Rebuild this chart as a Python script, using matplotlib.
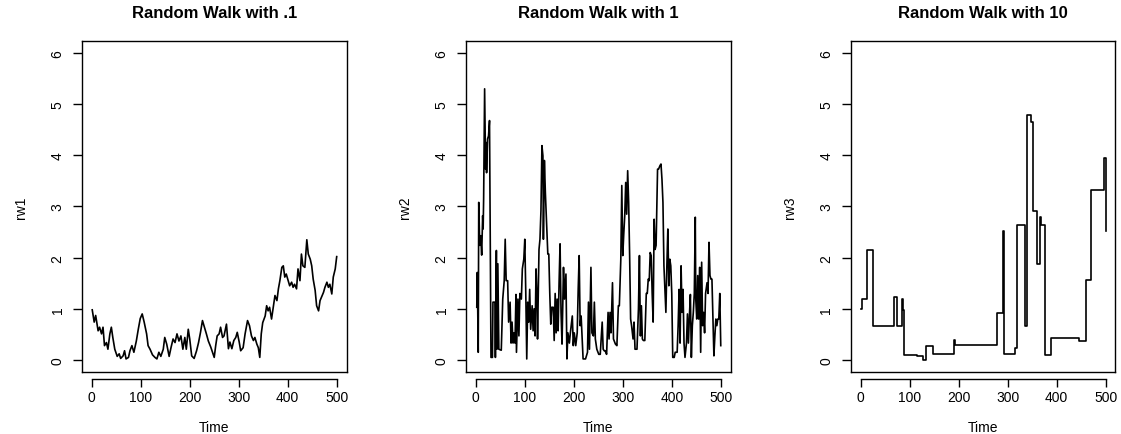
import matplotlib
matplotlib.use('Agg')
import matplotlib.pyplot as plt

plt.rcParams['font.family'] = ['Liberation Sans', 'DejaVu Sans']

# rw1: proposal sd .1 (vertices)
t1 = [1, 5, 8, 13, 16, 20, 23, 26, 30, 33, 37, 40, 43, 47, 52, 56, 59, 64, 67, 70,
      75, 78, 82, 86, 91, 95, 99, 103, 107, 112, 115, 119, 124, 129, 133, 137, 141,
      146, 149, 153, 158, 162, 166, 170, 174, 178, 182, 186, 190, 193, 197, 200, 204,
      209, 214, 218, 222, 226, 230, 234, 238, 243, 250, 253, 256, 260, 263, 267, 270,
      275, 279, 282, 286, 290, 294, 297, 301, 304, 309, 313, 318, 322, 326, 330, 333,
      337, 340, 343, 346, 349, 354, 357, 360, 363, 367, 371, 374, 378, 381, 384, 388,
      391, 394, 397, 401, 404, 408, 411, 414, 418, 421, 425, 428, 431, 435, 439, 442,
      446, 449, 452, 456, 459, 463, 466, 469, 473, 476, 480, 483, 486, 490, 493, 497,
      500]
rw1 = [0.98, 0.74, 0.87, 0.57, 0.64, 0.51, 0.64, 0.28, 0.34, 0.21, 0.51, 0.64, 0.44,
       0.21, 0.07, 0.12, 0.03, 0.08, 0.18, 0.02, 0.05, 0.18, 0.28, 0.15, 0.37, 0.60,
       0.81, 0.90, 0.74, 0.51, 0.28, 0.21, 0.10, 0.05, 0.02, 0.15, 0.07, 0.21, 0.44,
       0.31, 0.07, 0.25, 0.41, 0.34, 0.51, 0.37, 0.47, 0.21, 0.44, 0.21, 0.60, 0.41,
       0.08, 0.03, 0.18, 0.34, 0.54, 0.77, 0.64, 0.51, 0.37, 0.25, 0.05, 0.28, 0.47,
       0.51, 0.64, 0.44, 0.47, 0.70, 0.22, 0.35, 0.22, 0.38, 0.44, 0.54, 0.35, 0.18,
       0.24, 0.51, 0.77, 0.67, 0.47, 0.38, 0.44, 0.31, 0.24, 0.05, 0.51, 0.73, 0.86,
       1.06, 0.96, 1.03, 0.80, 1.06, 1.26, 1.16, 1.39, 1.55, 1.81, 1.84, 1.62, 1.68,
       1.55, 1.45, 1.52, 1.42, 1.48, 1.39, 1.78, 1.55, 2.07, 1.84, 1.81, 2.35, 2.07,
       1.97, 1.84, 1.58, 1.36, 1.06, 0.96, 1.16, 1.23, 1.32, 1.42, 1.52, 1.42, 1.48,
       1.29, 1.62, 1.78, 2.02]

# rw2: proposal sd 1
t2 = [2, 3, 5, 6, 8, 10, 12, 14, 15, 16, 18, 20, 21, 22, 24, 26, 28, 31, 34, 35, 39,
      40, 42, 43, 45, 47, 52, 55, 58, 60, 62, 65, 67, 70, 72, 74, 76, 78, 80, 82, 83,
      86, 88, 90, 93, 95, 98, 100, 102, 104, 106, 108, 110, 112, 115, 117, 119, 121,
      123, 125, 126, 129, 131, 133, 135, 137, 138, 140, 142, 145, 147, 149, 151, 153,
      155, 158, 160, 162, 164, 166, 168, 170, 172, 174, 176, 179, 181, 184, 186, 188,
      191, 193, 197, 199, 201, 204, 207, 209, 211, 213, 215, 219, 224, 228, 230, 232,
      235, 237, 240, 242, 244, 247, 251, 254, 258, 260, 262, 264, 267, 270, 272, 274,
      276, 279, 281, 285, 288, 291, 293, 296, 298, 300, 302, 304, 306, 308, 310, 312,
      314, 316, 318, 321, 323, 325, 329, 332, 334, 336, 338, 340, 342, 345, 348, 350,
      352, 354, 356, 358, 360, 362, 364, 366, 368, 371, 373, 376, 378, 380, 382, 384,
      386, 388, 390, 392, 394, 396, 398, 400, 402, 405, 407, 411, 413, 415, 417, 419,
      421, 423, 425, 427, 430, 432, 434, 436, 438, 440, 442, 444, 446, 448, 449, 451,
      453, 455, 457, 459, 461, 463, 465, 467, 469, 472, 474, 476, 478, 480, 482, 484,
      486, 488, 490, 492, 494, 496, 498, 500]
rw2 = [1.03, 1.71, 0.15, 3.08, 2.24, 2.43, 2.05, 2.82, 2.56, 3.15, 5.30, 3.73, 4.25,
       3.66, 4.32, 4.38, 4.68, 0.05, 0.05, 1.13, 1.13, 0.05, 2.14, 0.21, 1.88, 0.21,
       0.19, 1.19, 1.55, 2.36, 1.55, 1.55, 0.74, 1.13, 0.33, 0.74, 0.33, 0.53, 0.33,
       1.28, 0.15, 1.19, 0.47, 1.30, 1.19, 1.78, 1.97, 2.36, 1.32, 0.02, 1.13, 0.74,
       1.38, 0.60, 1.06, 0.57, 1.00, 0.47, 1.78, 1.19, 0.41, 2.16, 2.36, 2.92, 4.19,
       3.99, 2.36, 3.90, 3.27, 2.56, 2.07, 2.07, 1.30, 0.70, 1.03, 1.03, 0.38, 1.30,
       0.53, 1.19, 0.57, 1.51, 2.27, 0.93, 0.31, 1.81, 1.19, 1.68, 0.02, 0.53, 0.33,
       0.53, 0.86, 0.28, 0.53, 0.28, 0.53, 1.38, 2.04, 0.67, 0.86, 0.02, 0.02, 0.15,
       1.13, 0.21, 1.81, 0.53, 0.47, 1.13, 0.41, 0.21, 0.11, 0.11, 0.74, 0.21, 0.18,
       0.18, 0.11, 0.93, 0.41, 0.93, 0.53, 1.51, 0.41, 0.31, 0.28, 1.06, 1.06, 1.97,
       3.41, 2.04, 2.46, 2.82, 3.47, 2.85, 3.70, 3.08, 2.04, 0.80, 0.67, 0.41, 0.74,
       0.21, 0.21, 1.00, 2.04, 0.47, 1.06, 0.41, 0.38, 0.38, 1.30, 1.30, 1.58, 1.55,
       2.10, 2.04, 1.30, 0.74, 2.75, 2.16, 2.24, 3.73, 3.73, 3.80, 3.83, 3.53, 3.08,
       1.84, 1.38, 0.93, 1.84, 2.56, 1.45, 1.97, 1.84, 1.30, 0.05, 0.05, 0.15, 0.15,
       0.67, 1.38, 0.33, 1.84, 0.93, 1.38, 0.33, 0.05, 0.33, 0.90, 0.33, 0.86, 1.28,
       0.05, 0.67, 0.93, 1.30, 2.79, 1.19, 0.80, 1.65, 0.80, 1.81, 0.15, 1.91, 0.67,
       0.93, 0.53, 1.30, 1.51, 1.30, 2.30, 1.65, 1.58, 1.58, 0.80, 0.08, 0.47, 0.80,
       0.67, 0.80, 0.80, 1.30, 0.28]

# rw3: proposal sd 10 (value held until the next accepted move)
t3 = [1, 3, 14, 25, 69, 72, 74, 84, 87, 89, 100, 115, 127, 133, 148, 191, 193, 279,
      290, 292, 316, 319, 336, 339, 347, 351, 360, 367, 369, 377, 388, 446, 461, 470,
      497, 500]
rw3 = [1.00, 1.20, 2.14, 0.67, 1.24, 1.24, 0.67, 1.20, 0.98, 0.10, 0.09, 0.07, 0.00,
       0.27, 0.12, 0.39, 0.30, 0.91, 2.53, 0.11, 0.24, 2.64, 0.67, 4.79, 4.65, 2.92,
       1.88, 2.79, 2.64, 0.10, 0.42, 0.38, 1.56, 3.33, 3.95, 2.53]

panels = [
    (t1, rw1, 'rw1', 'Random Walk with .1', False),
    (t2, rw2, 'rw2', 'Random Walk with 1', False),
    (t3, rw3, 'rw3', 'Random Walk with 10', True),
]
lefts = [0.0731, 0.4157, 0.759]

fig = plt.figure(figsize=(11.21, 4.35), dpi=100)
for (t, y, name, title, stepped), left in zip(panels, lefts):
    ax = fig.add_axes([left, 0.142, 0.236, 0.762])
    if stepped:
        ax.plot(t, y, color='black', lw=1.2, drawstyle='steps-post')
    else:
        ax.plot(t, y, color='black', lw=1.2)
    ax.set_xlim(-20, 520)
    ax.set_ylim(-0.24, 6.24)
    ax.set_xticks([0, 100, 200, 300, 400, 500])
    ax.set_yticks([0, 1, 2, 3, 4, 5, 6])
    # R draws the time axis a little below the box
    ax.spines['bottom'].set_position(('outward', 5))
    ax.spines['bottom'].set_bounds(0, 500)
    ax.plot([0, 1], [0, 0], transform=ax.transAxes, color='black', lw=1.0,
            clip_on=False)
    for s in ax.spines.values():
        s.set_linewidth(1.0)
    ax.tick_params(axis='x', length=5.5, width=1.0, labelsize=10, pad=2.5)
    ax.tick_params(axis='y', length=6.5, width=1.0, labelsize=10, pad=6)
    for lab in ax.get_yticklabels():
        lab.set_rotation(90)
        lab.set_va('center')
    ax.set_xlabel('Time', fontsize=10, labelpad=11)
    ax.set_ylabel(name, fontsize=10, labelpad=16)
    ax.set_title(title, fontsize=12, fontweight='bold', pad=17)

fig.savefig('out.png', dpi=100)
